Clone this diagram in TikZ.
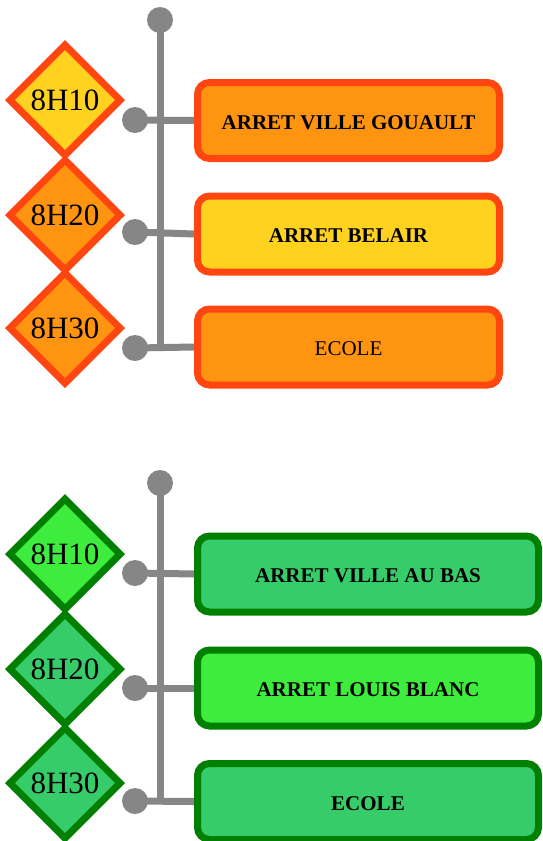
\documentclass[tikz,border=0pt]{standalone}
\usepackage{fontspec}
\setmainfont{Liberation Serif}
\usetikzlibrary{shapes.geometric}
\pgfdeclarelayer{background}
\pgfsetlayers{background,main}
\definecolor{orfill}{HTML}{FF9410}
\definecolor{yefill}{HTML}{FFD21F}
\definecolor{orline}{HTML}{FF4611}
\definecolor{grline}{HTML}{007F00}
\definecolor{grmid}{HTML}{36CC6A}
\definecolor{grbright}{HTML}{3EEC3E}
\definecolor{linegray}{HTML}{868686}
\begin{document}
\begin{tikzpicture}[x=1pt,y=-1pt,
  dia/.style={diamond, draw, line width=7pt, minimum width=113pt, minimum height=113pt, inner sep=0pt, text=black, font=\fontsize{31}{31}\selectfont},
  stopbox/.style={rectangle, rounded corners=12pt, draw, line width=7pt, minimum height=76pt, inner sep=0pt, text=black, font=\fontsize{21}{21}\selectfont\bfseries},
  plainbox/.style={stopbox, font=\fontsize{21}{21}\selectfont},
  lbl/.style={text=black, inner sep=0pt, font=\fontsize{21}{21}\selectfont\bfseries},
  dot/.style={circle, fill=linegray, minimum size=26pt, inner sep=0pt},
  trunk/.style={draw=linegray, line width=7pt},
  orgrp/.style={draw=orline},
  grgrp/.style={draw=grline},
]
\begin{pgfonlayer}{background}
\fill[white] (0,0) rectangle (542,841);
\end{pgfonlayer}
\useasboundingbox (0,0) rectangle (542,841);

% ---------- top group ----------
\node[dia, orgrp, fill=yefill] (d1) at (65,100) {8H10};
\node[dia, orgrp, fill=orfill] (d2) at (65,215) {8H20};
\node[dia, orgrp, fill=orfill] (d3) at (65,328) {8H30};

\node[dot] (t0) at (160,20) {};
\node[dot] (c1) at (135,120) {};
\node[dot] (c2) at (135,232) {};
\node[dot] (c3) at (135,348) {};

\node[stopbox, orgrp, fill=orfill, minimum width=302pt] (b1) at (348.5,120.5) {};
\node[stopbox, orgrp, fill=yefill, minimum width=302pt] (b2) at (348.5,234) {};
\node[stopbox, orgrp, fill=orfill, minimum width=302pt] (b3) at (348.5,347) {};
\node[lbl] (bl1) at ([yshift=-2pt]b1.center) {ARRET VILLE GOUAULT};
\node[lbl] (bl2) at ([yshift=-2pt]b2.center) {ARRET BELAIR};
\node[lbl, font=\fontsize{21}{21}\selectfont] (bl3) at ([yshift=-2pt]b3.center) {ECOLE};

\begin{pgfonlayer}{background}
\draw[trunk] (t0.center) -- (t0.center |- c3.center);
\draw[trunk] (c1.center) -- (b1.west);
\draw[trunk] (c2.center) -- (b2.west);
\draw[trunk] (c3.center) -- (b3.west);
\end{pgfonlayer}

% ---------- bottom group ----------
\node[dia, grgrp, fill=grbright] (e1) at (65,554) {8H10};
\node[dia, grgrp, fill=grmid] (e2) at (65,669) {8H20};
\node[dia, grgrp, fill=grmid] (e3) at (65,783) {8H30};

\node[dot] (u0) at (160,483) {};
\node[dot] (f1) at (135,573) {};
\node[dot] (f2) at (135,688) {};
\node[dot] (f3) at (135,801) {};

\node[stopbox, grgrp, fill=grmid, minimum width=341pt] (h1) at (368,574) {};
\node[stopbox, grgrp, fill=grbright, minimum width=341pt] (h2) at (368,688) {};
\node[stopbox, grgrp, fill=grmid, minimum width=341pt] (h3) at (368,801.5) {};
\node[lbl] (hl1) at ([yshift=-2pt]h1.center) {ARRET VILLE AU BAS};
\node[lbl] (hl2) at ([yshift=-2pt]h2.center) {ARRET LOUIS BLANC};
\node[lbl] (hl3) at ([yshift=-2pt]h3.center) {ECOLE};

\begin{pgfonlayer}{background}
\draw[trunk] (u0.center) -- (u0.center |- f3.center);
\draw[trunk] (f1.center) -- (h1.west);
\draw[trunk] (f2.center) -- (h2.west);
\draw[trunk] (f3.center) -- (h3.west);
\end{pgfonlayer}
\end{tikzpicture}
\end{document}
